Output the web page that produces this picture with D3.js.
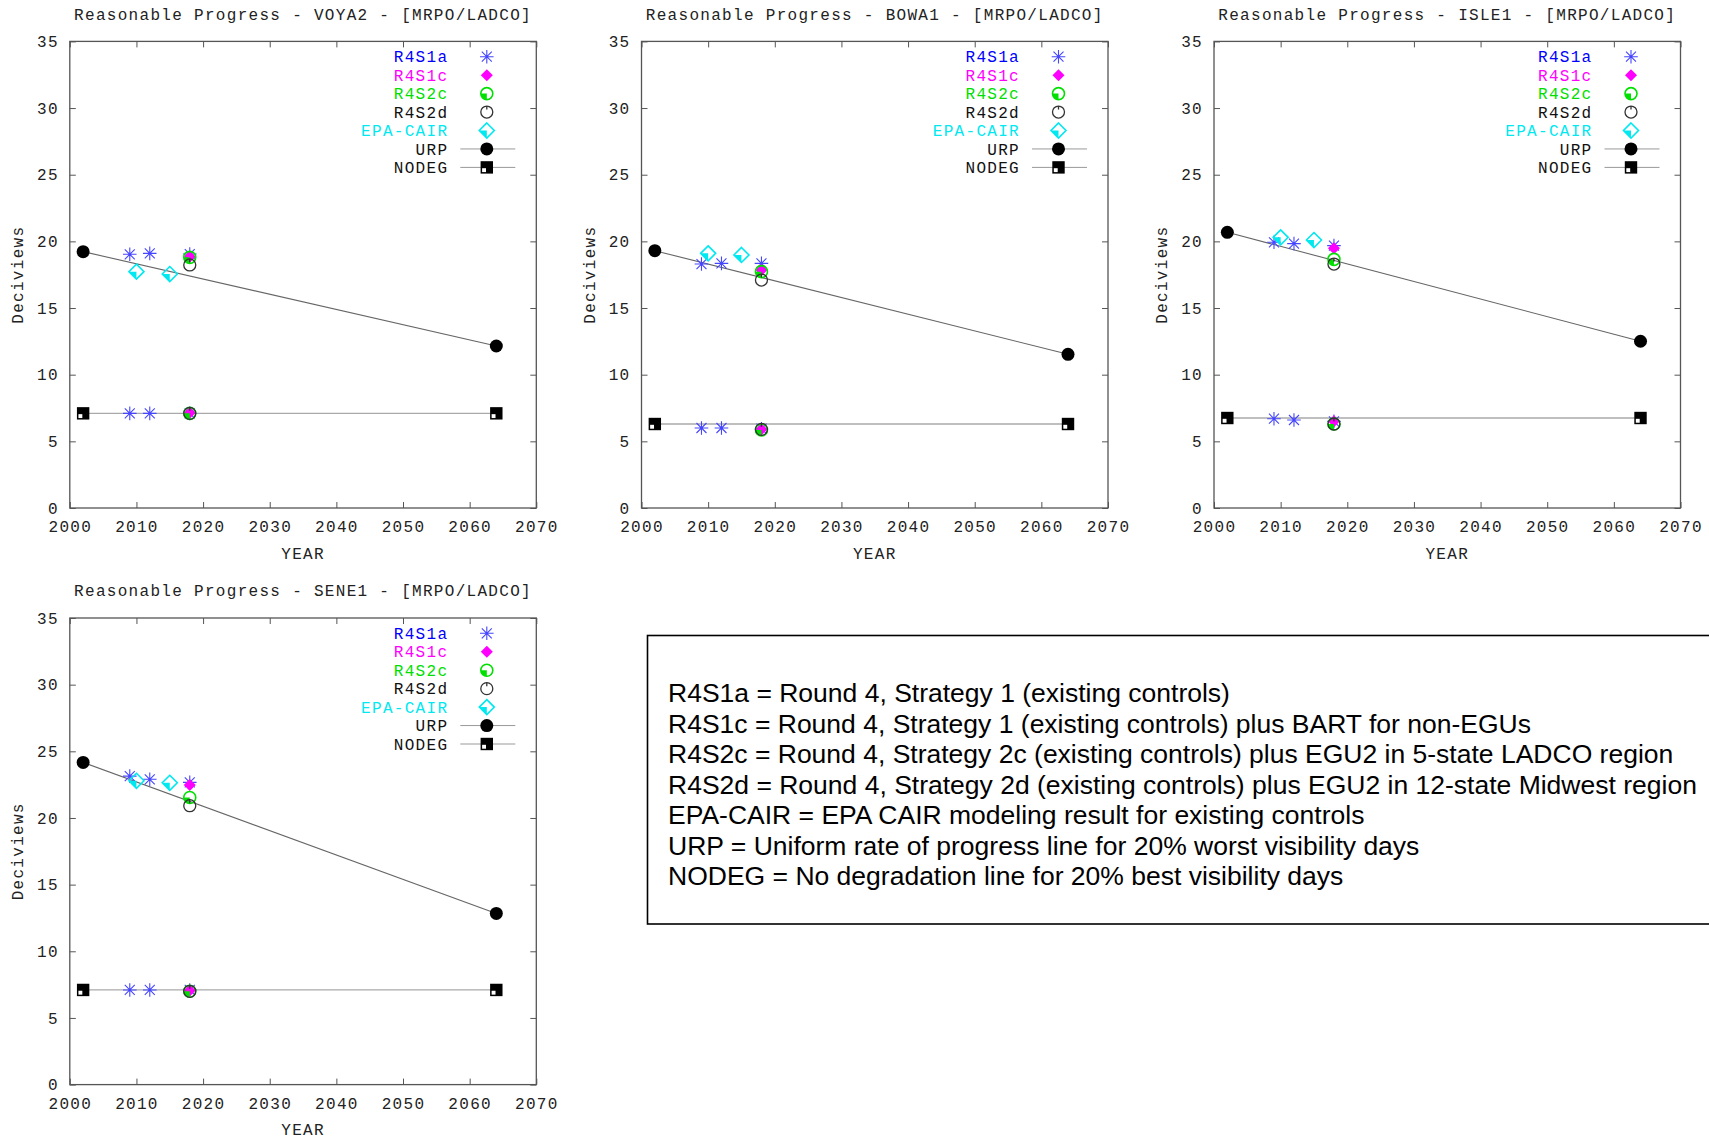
<!DOCTYPE html>
<html>
<head>
<meta charset="utf-8">
<script src="https://cdn.jsdelivr.net/npm/d3@7"></script>
<style>
  body { margin: 0; background: #fff; }
  svg { display: block; }
</style>
</head>
<body>
<svg id="chart" width="1709" height="1139"></svg>
<script>
// ---- data -------------------------------------------------------------
const sites = ["VOYA2", "BOWA1", "ISLE1", "SENE1"];
const xTicks = [2000, 2010, 2020, 2030, 2040, 2050, 2060, 2070];
const yTicks = [0, 5, 10, 15, 20, 25, 30, 35];

// R4S1a: three model years, 20% worst days and 20% best days, one row per site
const r4s1aYears = [2009, 2012, 2018];
const r4s1aWorst = [[19.03, 19.10, 19.05], [18.30, 18.35, 18.35], [19.93, 19.83, 19.68], [23.14, 22.90, 22.67]];
const r4s1aBest  = [[7.10, 7.10, 7.10], [6.00, 6.00, 5.95], [6.70, 6.60, 6.50], [7.10, 7.10, 7.10]];

// R4S1c, R4S2c, R4S2d: 2018 only
const r4s1cYears = [2018];
const r4s1cWorst = [18.85, 17.85, 19.48, 22.47];
const r4s1cBest  = [7.15, 5.90, 6.50, 7.05];

const r4s2cYears = [2018];
const r4s2cWorst = [18.80, 17.73, 18.65, 21.54];
const r4s2cBest  = [7.10, 5.85, 6.30, 7.00];

const r4s2dYears = [2018];
const r4s2dWorst = [18.23, 17.10, 18.30, 20.92];
const r4s2dBest  = [7.10, 5.90, 6.30, 7.00];

// EPA CAIR modeling (worst days only)
const epaCairYears = [2010, 2015];
const epaCairWorst = [[17.73, 17.55], [19.10, 18.98], [20.30, 20.10], [22.79, 22.64]];

// Uniform rate of progress and no-degradation lines
const urpYears = [2002, 2064];
const urpValues = [[19.23, 12.15], [19.30, 11.53], [20.68, 12.51], [24.17, 12.84]];
const nodegYears = [2002, 2064];
const nodegValues = [[7.10, 7.10], [6.30, 6.30], [6.75, 6.75], [7.10, 7.10]];

const legendNames = ["R4S1a", "R4S1c", "R4S2c", "R4S2d", "EPA-CAIR", "URP", "NODEG"];

const notes = [
  "R4S1a = Round 4, Strategy 1 (existing controls)",
  "R4S1c = Round 4, Strategy 1 (existing controls) plus BART for non-EGUs",
  "R4S2c = Round 4, Strategy 2c (existing controls) plus EGU2 in 5-state LADCO region",
  "R4S2d = Round 4, Strategy 2d (existing controls) plus EGU2 in 12-state Midwest region",
  "EPA-CAIR = EPA CAIR modeling result for existing controls",
  "URP = Uniform rate of progress line for 20% worst visibility days",
  "NODEG = No degradation line for 20% best visibility days"
];

// ---- styling / layout -------------------------------------------------
const FONT = "'Liberation Mono', 'DejaVu Sans Mono', monospace";
const FS = 16;
const LS = "1.3px";
const colors = {
  R4S1a: "#4646ff", R4S1aText: "#0000ff",
  R4S1c: "#ff00ff",
  R4S2c: "#00e000",
  R4S2d: "#333333",
  EPA: "#00e8f0",
  black: "#000000"
};
const panelW = 466.5, panelH = 466.6;
const panelPos = [[69.8, 41.4], [641.5, 41.4], [1214, 41.4], [69.8, 618]];

const svg = d3.select("#chart");

// ---- marker shapes ----------------------------------------------------
function starMark(g, cx, cy) {
  const s = 6.8, d = 5;
  const p = g.append("g").attr("transform", `translate(${cx},${cy})`)
    .attr("stroke", colors.R4S1a).attr("stroke-width", 1.1).attr("fill", "none");
  p.append("path").attr("d", `M${-s},0H${s}M0,${-s}V${s}M${-d},${-d}L${d},${d}M${-d},${d}L${d},${-d}`);
}
function filledDiamond(g, cx, cy) {
  const h = 6;
  g.append("path").attr("transform", `translate(${cx},${cy})`)
    .attr("d", `M0,${-h}L${h},0L0,${h}L${-h},0Z`).attr("fill", colors.R4S1c);
}
function quarterCircle(g, cx, cy) {
  const r = 6;
  const p = g.append("g").attr("transform", `translate(${cx},${cy})`);
  p.append("path").attr("d", `M0,0L${-r},0A${r},${r} 0 0 0 0,${r}Z`).attr("fill", colors.R4S2c);
  p.append("circle").attr("r", r).attr("fill", "none").attr("stroke", colors.R4S2c).attr("stroke-width", 1.6);
}
function openCircle(g, cx, cy) {
  const r = 6;
  const p = g.append("g").attr("transform", `translate(${cx},${cy})`);
  p.append("circle").attr("r", r).attr("fill", "none").attr("stroke", colors.R4S2d).attr("stroke-width", 1.3);
  p.append("path").attr("d", `M0,${-r}V${-r + 3.5}`).attr("stroke", colors.R4S2d).attr("stroke-width", 1.3);
}
function quarterDiamond(g, cx, cy) {
  const h = 7.5;
  const p = g.append("g").attr("transform", `translate(${cx},${cy})`);
  p.append("path").attr("d", `M0,0L${-h},0L0,${h}Z`).attr("fill", colors.EPA);
  p.append("path").attr("d", `M0,${-h}L${h},0L0,${h}L${-h},0Z`).attr("fill", "none")
    .attr("stroke", colors.EPA).attr("stroke-width", 1.6);
}
function dotMark(g, cx, cy) {
  g.append("circle").attr("cx", cx).attr("cy", cy).attr("r", 6.5).attr("fill", colors.black);
}
function squareMark(g, cx, cy) {
  const h = 6.2;
  const p = g.append("g").attr("transform", `translate(${cx},${cy})`);
  p.append("rect").attr("x", -h).attr("y", -h).attr("width", 2 * h).attr("height", 2 * h)
    .attr("fill", colors.black);
  p.append("rect").attr("x", -h + 1.5).attr("y", 0.8).attr("width", h - 2.3).attr("height", h - 2.3)
    .attr("fill", "#fff");
}
const markers = [starMark, filledDiamond, quarterCircle, openCircle, quarterDiamond, dotMark, squareMark];
const legendColors = [colors.R4S1aText, colors.R4S1c, colors.R4S2c, "#111", colors.EPA, "#111", "#111"];

// ---- panels -----------------------------------------------------------
sites.forEach((site, i) => {
  const [px, py] = panelPos[i];
  const g = svg.append("g").attr("transform", `translate(${px},${py})`);
  const x = d3.scaleLinear().domain([2000, 2070]).range([0, panelW]);
  const y = d3.scaleLinear().domain([0, 35]).range([panelH, 0]);

  // axes with inward ticks, mirrored on top and right
  const styleAxis = sel => {
    sel.select(".domain").remove();
    sel.selectAll(".tick line").attr("stroke", "#555").attr("stroke-width", 1);
    sel.selectAll("text").attr("font-family", FONT).attr("font-size", FS)
      .attr("letter-spacing", LS).attr("fill", "#222");
  };
  g.append("g").call(d3.axisLeft(y).tickValues(yTicks).tickSize(-6).tickPadding(11)).call(styleAxis);
  g.append("g").attr("transform", `translate(${panelW},0)`)
    .call(d3.axisRight(y).tickValues(yTicks).tickSize(-6).tickFormat("")).call(styleAxis);
  g.append("g").attr("transform", `translate(0,${panelH})`)
    .call(d3.axisBottom(x).tickValues(xTicks).tickSize(-6).tickPadding(13).tickFormat(d3.format("d")))
    .call(styleAxis);
  g.append("g").call(d3.axisTop(x).tickValues(xTicks).tickSize(-6).tickFormat("")).call(styleAxis);

  g.append("rect").attr("width", panelW).attr("height", panelH)
    .attr("fill", "none").attr("stroke", "#555").attr("stroke-width", 1.3);

  // titles
  const txt = (t, xx, yy) => g.append("text").text(t).attr("x", xx).attr("y", yy)
    .attr("font-family", FONT).attr("font-size", FS).attr("letter-spacing", LS)
    .attr("fill", "#222").attr("text-anchor", "middle").attr("dy", "0.35em");
  txt(`Reasonable Progress - ${site} - [MRPO/LADCO]`, panelW / 2, -27.4);
  txt("YEAR", panelW / 2, panelH + 45);
  txt("Deciviews", 0, 0).attr("transform", `translate(-52.3,${panelH / 2}) rotate(-90)`);

  // lines
  const line = d3.line().x(d => x(d[0])).y(d => y(d[1]));
  const urpPts = urpYears.map((yr, k) => [yr, urpValues[i][k]]);
  const nodegPts = nodegYears.map((yr, k) => [yr, nodegValues[i][k]]);
  g.append("path").attr("d", line(urpPts)).attr("fill", "none").attr("stroke", "#666").attr("stroke-width", 1.1);
  g.append("path").attr("d", line(nodegPts)).attr("fill", "none").attr("stroke", "#aaa").attr("stroke-width", 1.3);

  // points, drawn in series order
  const m = g.append("g");
  r4s1aYears.forEach((yr, k) => {
    starMark(m, x(yr), y(r4s1aWorst[i][k]));
    starMark(m, x(yr), y(r4s1aBest[i][k]));
  });
  r4s1cYears.forEach(yr => {
    filledDiamond(m, x(yr), y(r4s1cWorst[i]));
    filledDiamond(m, x(yr), y(r4s1cBest[i]));
  });
  r4s2cYears.forEach(yr => {
    quarterCircle(m, x(yr), y(r4s2cWorst[i]));
    quarterCircle(m, x(yr), y(r4s2cBest[i]));
  });
  r4s2dYears.forEach(yr => {
    openCircle(m, x(yr), y(r4s2dWorst[i]));
    openCircle(m, x(yr), y(r4s2dBest[i]));
  });
  epaCairYears.forEach((yr, k) => quarterDiamond(m, x(yr), y(epaCairWorst[i][k])));
  urpPts.forEach(d => dotMark(m, x(d[0]), y(d[1])));
  nodegPts.forEach(d => squareMark(m, x(d[0]), y(d[1])));

  // key
  const lg = g.append("g");
  legendNames.forEach((name, k) => {
    const ly = 15.3 + k * 18.45;
    lg.append("text").text(name).attr("x", panelW - 88).attr("y", ly).attr("dy", "0.35em")
      .attr("text-anchor", "end").attr("font-family", FONT).attr("font-size", FS)
      .attr("letter-spacing", LS).attr("fill", legendColors[k]);
    if (k >= 5) {
      lg.append("path").attr("d", `M${panelW - 76},${ly}H${panelW - 21}`)
        .attr("stroke", "#999").attr("stroke-width", 1);
    }
    markers[k](lg, panelW - 49.5, ly);
  });
});

// ---- notes box --------------------------------------------------------
const box = svg.append("g");
box.append("rect").attr("x", 647.5).attr("y", 635.5).attr("width", 1080).attr("height", 288.5)
  .attr("fill", "#fff").attr("stroke", "#000").attr("stroke-width", 1.6);
notes.forEach((t, k) => {
  box.append("text").text(t).attr("x", 668).attr("y", 693 + k * 30.5).attr("dy", "0.35em")
    .attr("font-family", "'Liberation Sans', Arial, sans-serif").attr("font-size", 26.5)
    .attr("fill", "#000");
});
</script>
</body>
</html>
